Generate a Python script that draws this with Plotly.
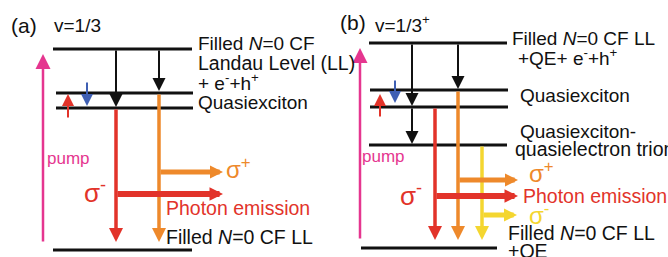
import plotly.graph_objects as go

W, H = 668, 257
FONT = "Liberation Sans, Arial, Helvetica, sans-serif"

BLACK = "#111111"
PINK = "#e5368f"
RED = "#e2332a"
ORANGE = "#ee892b"
YELLOW = "#f4d630"
BLUE = "#3f5fb3"

# ---- energy levels (x0, x1, y) ----
level_x0 = [53, 56, 56, 53, 369, 370, 370, 369, 361]
level_x1 = [192, 193, 193, 192, 507, 508, 508, 507, 497]
level_y = [49, 93, 108, 250, 43, 90, 107, 145, 248]

# ---- arrows: tail (x0, y0) -> tip (x1, y1) ----
arrow_x0 = [43, 68, 87, 116, 159, 116, 159, 159, 116,
            360, 380, 395, 412, 412, 458, 435, 458, 482, 458, 435, 482]
arrow_y0 = [243, 119, 81, 49, 49, 108, 93, 172, 194,
            240, 118, 79, 43, 107, 43, 107, 90, 145, 180, 196, 215]
arrow_x1 = [43, 68, 87, 116, 159, 116, 159, 223, 223,
            360, 380, 395, 412, 412, 458, 435, 458, 482, 518, 518, 517]
arrow_y1 = [54, 94, 106, 107, 91, 242, 242, 172, 194,
            48, 94, 103, 106, 144, 89, 240, 240, 240, 180, 196, 215]
arrow_col = [PINK, RED, BLUE, BLACK, BLACK, RED, ORANGE, ORANGE, RED,
             PINK, RED, BLUE, BLACK, BLACK, BLACK, RED, ORANGE, YELLOW, ORANGE, RED, YELLOW]
arrow_w = [2.5, 2, 2, 2, 2, 3.5, 3.5, 5, 6,
           2.5, 2, 2, 2, 2, 2, 3.5, 3.5, 3.5, 5, 6, 5]
arrow_size = [1.2, 1.2, 1.2, 1.3, 1.3, 0.8, 0.8, 0.52, 0.45,
              1.2, 1.2, 1.2, 1.3, 1.3, 1.3, 0.8, 0.8, 0.8, 0.52, 0.45, 0.52]

# ---- labels ----
label_x = [10, 53, 197, 197, 197, 197, 46, 83, 225, 165, 165,
           339, 374, 511, 517, 519, 519, 514, 361, 399, 528, 522, 528, 507, 507]
label_y = [25, 25, 43, 63, 82, 102, 158, 191, 168, 208, 237,
           22, 24, 38, 57, 95, 131, 149, 156, 194, 172, 196, 214, 233, 251]
label_text = ["(a)", "v=1/3", "Filled <i>N</i>=0 CF", "Landau Level (LL)",
              "+ e<sup>-</sup>+h<sup>+</sup>", "Quasiexciton", "pump", "σ<sup>-</sup>",
              "σ<sup>+</sup>", "Photon emission", "Filled <i>N</i>=0 CF LL",
              "(b)", "v=1/3<sup>+</sup>", "Filled <i>N</i>=0 CF LL", "+QE+ e<sup>-</sup>+h<sup>+</sup>",
              "Quasiexciton", "Quasiexciton-", "quasielectron trion", "pump", "σ<sup>-</sup>",
              "σ<sup>+</sup>", "Photon emission", "σ<sup>-</sup>", "Filled <i>N</i>=0 CF LL", "+QE"]
label_col = [BLACK, BLACK, BLACK, BLACK, BLACK, BLACK, PINK, RED, ORANGE, RED, BLACK,
             BLACK, BLACK, BLACK, BLACK, BLACK, BLACK, BLACK, PINK, RED, ORANGE, RED, YELLOW,
             BLACK, BLACK]
label_size = [21, 19, 19, 19.5, 19, 19, 17, 26, 24, 19.5, 19.5,
              21, 19, 19, 19, 19, 19, 19.5, 17, 26, 24, 19.5, 24, 19.5, 19.5]

fig = go.Figure()
fig.add_trace(go.Scatter(x=[0, W], y=[0, H], mode="markers",
                         marker=dict(opacity=0), hoverinfo="skip", showlegend=False))

for x0, x1, y in zip(level_x0, level_x1, level_y):
    fig.add_shape(type="line", x0=x0, x1=x1, y0=y, y1=y, xref="x", yref="y",
                  line=dict(color=BLACK, width=3))

for x0, y0, x1, y1, c, w, s in zip(arrow_x0, arrow_y0, arrow_x1, arrow_y1,
                                    arrow_col, arrow_w, arrow_size):
    fig.add_annotation(x=x1, y=y1, ax=x0, ay=y0, xref="x", yref="y", axref="x", ayref="y",
                       text="", showarrow=True, arrowhead=2, arrowsize=s, arrowwidth=w,
                       arrowcolor=c, standoff=0, startstandoff=0)

for x, y, t, c, s in zip(label_x, label_y, label_text, label_col, label_size):
    fig.add_annotation(x=x, y=y, xref="x", yref="y", text=t, showarrow=False,
                       xanchor="left", yanchor="middle", borderpad=0,
                       font=dict(family=FONT, size=s, color=c))

fig.update_layout(width=W, height=H, margin=dict(l=0, r=0, t=0, b=0),
                  paper_bgcolor="white", plot_bgcolor="white", showlegend=False)
fig.update_xaxes(range=[0, W], visible=False, fixedrange=True)
fig.update_yaxes(range=[H, 0], visible=False, fixedrange=True)

fig.write_html("out.html", config={"displayModeBar": False},
               post_script="document.body.style.margin='0';document.body.style.overflow='hidden';")
